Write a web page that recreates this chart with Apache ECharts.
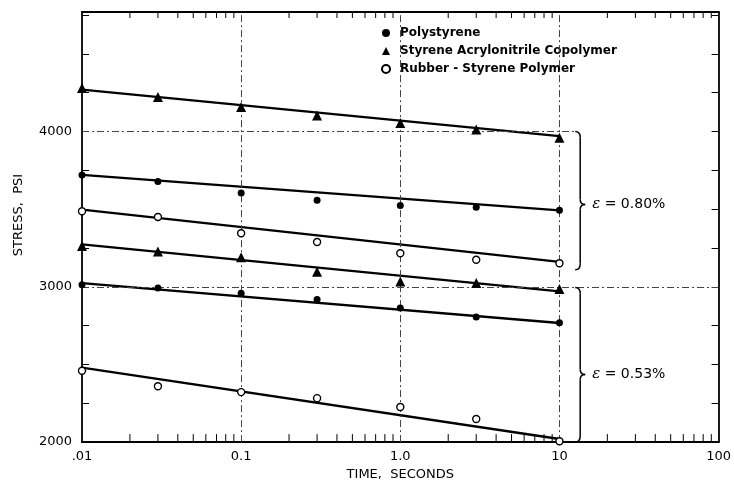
<!DOCTYPE html>
<html>
<head>
<meta charset="utf-8">
<title>Stress relaxation of styrene polymers</title>
<script src="https://cdn.jsdelivr.net/npm/echarts@6/dist/echarts.min.js"></script>
<style>
  html, body { margin: 0; padding: 0; background: #ffffff; }
  #chart { width: 734px; height: 486px; }
</style>
</head>
<body>
<div id="chart"></div>
<script>
// Time points (seconds) at which stress was recorded
const times = [0.01, 0.03, 0.1, 0.3, 1, 3, 10];

// Measured stress (psi), strain 0.80 %
const sanHigh = [4280, 4222, 4158, 4104, 4055, 4013, 3960];
const psHigh = [3721, 3679, 3605, 3557, 3523, 3512, 3493];
const rubberHigh = [3487, 3450, 3345, 3289, 3216, 3174, 3152];

// Measured stress (psi), strain 0.53 %
const sanLow = [3263, 3227, 3190, 3097, 3035, 3025, 2986];
const psLow = [3014, 2992, 2958, 2918, 2863, 2805, 2769];
const rubberLow = [2460, 2360, 2322, 2283, 2226, 2149, 2005];

// Straight-line fits (stress at start and end time)
const fitTimes = [0.01, 10];
const sanHighFit = [4270, 3970];
const psHighFit = [3721, 3493];
const rubberHighFit = [3497, 3161];
const sanLowFit = [3274, 2971];
const psLowFit = [3024, 2767];
const rubberLowFit = [2479, 2020];

// Axis ticks and labels
const timeTickLabels = { 0.01: '.01', 0.1: '0.1', 1: '1.0', 10: '10', 100: '100' };
const stressMin = 2000;
const stressMax = 4770;
const minorTimeTicks = [
  0.02, 0.03, 0.04, 0.05, 0.06, 0.07, 0.08, 0.09,
  0.2, 0.3, 0.4, 0.5, 0.6, 0.7, 0.8, 0.9,
  2, 3, 4, 5, 6, 7, 8, 9,
  20, 30, 40, 50, 60, 70, 80, 90
];
const gridTimes = [0.1, 1, 10];

// Strain groups marked with braces: [low stress, high stress], tip stress, strain text
const strainGroups = [
  { range: [3110, 4000], tip: 3530, strain: '0.80%' },
  { range: [2000, 2995], tip: 2435, strain: '0.53%' }
];

const names = {
  ps: 'Polystyrene',
  san: 'Styrene Acrylonitrile Copolymer',
  rubber: 'Rubber - Styrene Polymer'
};

const INK = '#000000';
const FONT = "'DejaVu Sans', sans-serif";

function pairs(xs, ys) { return xs.map((x, i) => [x, ys[i]]); }

const markerStyles = {
  ps: { symbol: 'circle', symbolSize: 7, itemStyle: { color: INK, opacity: 1 } },
  san: { symbol: 'triangle', symbolSize: 10, itemStyle: { color: INK, opacity: 1 } },
  rubber: { symbol: 'circle', symbolSize: 7, itemStyle: { color: '#ffffff', borderColor: INK, borderWidth: 1.4, opacity: 1 } }
};

function pointSeries(key, values) {
  return Object.assign({
    type: 'scatter',
    name: names[key],
    data: pairs(times, values),
    z: 5
  }, markerStyles[key]);
}

function fitSeries(id, values) {
  return {
    type: 'line',
    id: id,
    name: id,
    data: pairs(fitTimes, values),
    symbol: 'none',
    lineStyle: { color: INK, width: 2.3 },
    z: 4,
    silent: true
  };
}

const gridLineStyle = { color: '#444444', width: 1, type: [7, 3, 2, 3] };

const chart = echarts.init(document.getElementById('chart'), null, { renderer: 'canvas' });

const option = {
  animation: false,
  backgroundColor: '#ffffff',
  grid: { left: 82, right: 14, top: 12, bottom: 40, containLabel: false },
  legend: {
    data: [names.ps, names.san, names.rubber],
    orient: 'vertical',
    left: 381,
    top: 26,
    padding: 0,
    itemWidth: 8,
    itemHeight: 8,
    itemGap: 4,
    selectedMode: false,
    textStyle: {
      color: INK,
      fontFamily: FONT,
      fontWeight: 'bold',
      fontSize: 12,
      lineHeight: 14,
      padding: [0, 0, 0, 5]
    }
  },
  xAxis: [
    {
      type: 'log',
      logBase: 10,
      min: 0.01,
      max: 100,
      position: 'bottom',
      axisLine: { show: true, lineStyle: { color: INK, width: 1.8 } },
      axisTick: { show: false },
      splitLine: { show: false },
      minorTick: { show: false },
      axisLabel: {
        color: INK,
        fontFamily: FONT,
        fontSize: 13,
        margin: 8,
        formatter: v => timeTickLabels[+v.toPrecision(3)] || ''
      },
      name: 'TIME,  SECONDS',
      nameLocation: 'middle',
      nameGap: 25,
      nameTextStyle: { color: INK, fontFamily: FONT, fontSize: 13 }
    },
    {
      type: 'log',
      logBase: 10,
      min: 0.01,
      max: 100,
      position: 'top',
      axisLine: { show: true, lineStyle: { color: INK, width: 1.8 } },
      axisTick: { show: false },
      axisLabel: { show: false },
      splitLine: { show: false }
    }
  ],
  yAxis: [
    {
      type: 'value',
      min: stressMin,
      max: stressMax,
      interval: 250,
      position: 'left',
      axisLine: { show: true, lineStyle: { color: INK, width: 1.8 } },
      axisTick: { show: true, inside: true, length: 7, lineStyle: { color: INK, width: 1 } },
      splitLine: { show: false },
      axisLabel: {
        color: INK,
        fontFamily: FONT,
        fontSize: 13,
        margin: 10,
        formatter: v => (v % 1000 === 0 ? String(v) : '')
      },
      name: 'STRESS,  PSI',
      nameLocation: 'middle',
      nameGap: 57,
      nameRotate: 90,
      nameTextStyle: { color: INK, fontFamily: FONT, fontSize: 13, padding: [0, 0, 0, 24] }
    },
    {
      type: 'value',
      min: stressMin,
      max: stressMax,
      interval: 250,
      position: 'right',
      axisLine: { show: true, lineStyle: { color: INK, width: 1.8 } },
      axisTick: { show: true, inside: true, length: 7, lineStyle: { color: INK, width: 1 } },
      axisLabel: { show: false },
      splitLine: { show: false }
    }
  ],
  series: [
    // Minor log ticks on the bottom and top frame edges, plus the grid lines
    {
      type: 'custom',
      name: 'minor ticks',
      data: minorTimeTicks.map(v => [v, stressMin]),
      silent: true,
      clip: false,
      z: 3,
      renderItem: function (params, api) {
        const x = api.value(0);
        const b = api.coord([x, stressMin]);
        const t = api.coord([x, stressMax]);
        return {
          type: 'group',
          children: [
            { type: 'line', shape: { x1: b[0], y1: b[1], x2: b[0], y2: b[1] - 8 }, style: { stroke: INK, lineWidth: 1 } },
            { type: 'line', shape: { x1: t[0], y1: t[1], x2: t[0], y2: t[1] + 6 }, style: { stroke: INK, lineWidth: 1 } }
          ]
        };
      },
      markLine: {
        silent: true,
        symbol: ['none', 'none'],
        label: { show: false },
        lineStyle: gridLineStyle,
        data: [
          ...gridTimes.map(t => ({ xAxis: t })),
          [{ coord: [0.01, 4000] }, { coord: [12.7, 4000] }],
          { yAxis: 3000 }
        ]
      }
    },
    fitSeries('SAN fit 0.80%', sanHighFit),
    fitSeries('PS fit 0.80%', psHighFit),
    fitSeries('Rubber fit 0.80%', rubberHighFit),
    fitSeries('SAN fit 0.53%', sanLowFit),
    fitSeries('PS fit 0.53%', psLowFit),
    fitSeries('Rubber fit 0.53%', rubberLowFit),
    pointSeries('ps', psHigh),
    pointSeries('san', sanHigh),
    pointSeries('rubber', rubberHigh),
    pointSeries('ps', psLow),
    pointSeries('san', sanLow),
    pointSeries('rubber', rubberLow)
  ]
};

chart.setOption(option);

// Curly braces grouping the curves by strain level, with their labels
const braceTime = 13.5;
function braceElements(group) {
  const top = chart.convertToPixel({ gridIndex: 0 }, [braceTime, group.range[1]]);
  const bot = chart.convertToPixel({ gridIndex: 0 }, [braceTime, group.range[0]]);
  const tip = chart.convertToPixel({ gridIndex: 0 }, [braceTime, group.tip]);
  const x = top[0], y0 = top[1], y1 = bot[1], ym = tip[1];
  const s = { stroke: INK, lineWidth: 1.5, fill: null };
  return [
    { type: 'bezierCurve', shape: { x1: x - 5, y1: y0, cpx1: x, cpy1: y0, x2: x, y2: y0 + 6 }, style: s },
    { type: 'line', shape: { x1: x, y1: y0 + 6, x2: x, y2: ym - 5 }, style: s },
    { type: 'bezierCurve', shape: { x1: x, y1: ym - 5, cpx1: x, cpy1: ym, x2: x + 5, y2: ym }, style: s },
    { type: 'bezierCurve', shape: { x1: x + 5, y1: ym, cpx1: x, cpy1: ym, x2: x, y2: ym + 5 }, style: s },
    { type: 'line', shape: { x1: x, y1: ym + 5, x2: x, y2: y1 - 6 }, style: s },
    { type: 'bezierCurve', shape: { x1: x, y1: y1 - 6, cpx1: x, cpy1: y1, x2: x - 5, y2: y1 }, style: s },
    {
      type: 'text',
      x: x + 12,
      y: ym,
      style: {
        text: '{e|ε} = ' + group.strain,
        fill: INK,
        fontFamily: FONT,
        fontSize: 14,
        align: 'left',
        verticalAlign: 'middle',
        rich: {
          e: { fontFamily: "'DejaVu Serif', serif", fontStyle: 'italic', fontSize: 15, fill: INK }
        }
      }
    }
  ];
}

chart.setOption({
  graphic: strainGroups.flatMap(braceElements).map(el => Object.assign({ silent: true, z: 10 }, el))
});
</script>
</body>
</html>
